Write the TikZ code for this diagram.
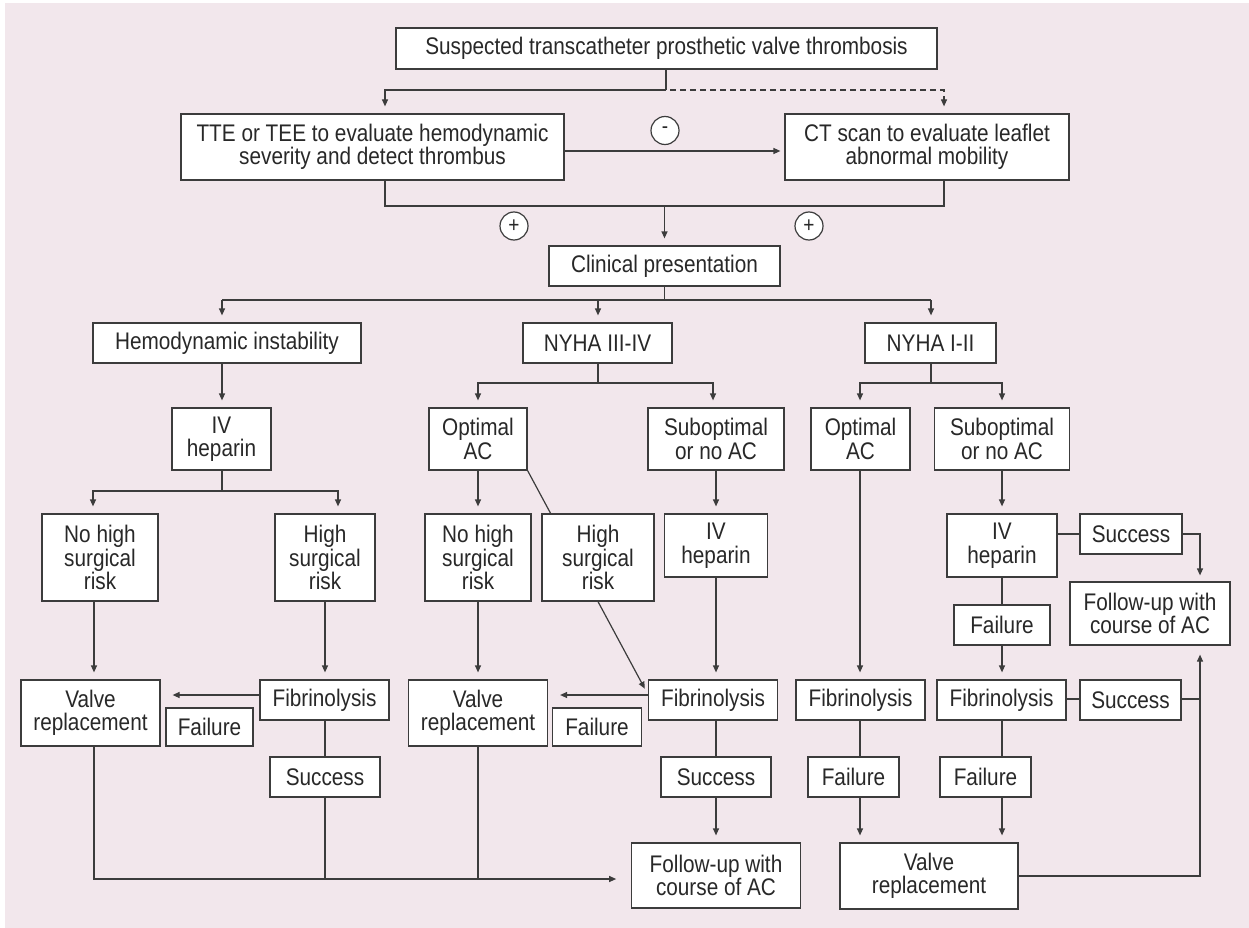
\documentclass[tikz,border=0pt]{standalone}
\usepackage{fontspec}
\setmainfont{Liberation Sans}[FakeStretch=0.865]
\usetikzlibrary{arrows.meta}
\definecolor{bgpink}{RGB}{242,231,236}
\definecolor{ink}{RGB}{40,40,40}
\definecolor{edge}{RGB}{60,60,60}
\pgfdeclarelayer{bg}
\pgfsetlayers{bg,main}

\begin{document}
\begin{tikzpicture}[x=1pt,y=-1pt,
  box/.style={draw=edge, line width=1.2pt, fill=white, inner sep=0pt, align=center,
    text=ink, font=\fontsize{24}{23.5}\selectfont},
  link/.style={draw=edge, line width=1.2pt},
  arr/.style={link, -{Triangle[length=7pt,width=6pt]}, shorten >=7pt},
  sign/.style={circle, draw=edge, line width=1.2pt, fill=white, minimum size=28pt,
    inner sep=0pt, text=ink, font=\fontsize{22}{22}\selectfont}]
\useasboundingbox (0,0) rectangle (1249,928);

% ---------- boxes ----------
\node[box, minimum width=541pt, minimum height=41pt] (top) at (666.5,48.5) {Suspected transcatheter prosthetic valve thrombosis};
\node[box, minimum width=383pt, minimum height=66pt] (tte) at (372.5,147) {TTE or TEE to evaluate hemodynamic\\severity and detect thrombus};
\node[box, minimum width=284pt, minimum height=66pt] (ct) at (927,147) {CT scan to evaluate leaflet\\abnormal mobility};
\node[sign] (minus) at (665,130.5) {-};
\node[sign] (plusL) at (514,226) {+};
\node[sign] (plusR) at (809,226) {+};
\node[box, minimum width=231pt, minimum height=40pt] (clin) at (664.5,266) {Clinical presentation};

\node[box, minimum width=268pt, minimum height=40pt] (hemo) at (227,343) {Hemodynamic instability};
\node[box, minimum width=149pt, minimum height=40pt] (nyhaA) at (597.5,343) {NYHA III-IV};
\node[box, minimum width=131pt, minimum height=40pt] (nyhaB) at (930.5,343) {NYHA I-II};

\node[box, minimum width=99pt, minimum height=62pt] (ivA) at (221.5,439) {IV\\heparin};
\node[box, minimum width=98pt, minimum height=62pt] (optA) at (478,439) {Optimal\\AC};
\node[box, minimum width=136pt, minimum height=62pt] (subA) at (716,439) {Suboptimal\\or no AC};
\node[box, minimum width=99pt, minimum height=62pt] (optB) at (860.5,439) {Optimal\\AC};
\node[box, minimum width=135pt, minimum height=62pt] (subB) at (1002,439) {Suboptimal\\or no AC};

\node[box, minimum width=116pt, minimum height=87pt] (lowA) at (100,557.5) {No high\\surgical\\risk};
\node[box, minimum width=100pt, minimum height=87pt] (highA) at (325,557.5) {High\\surgical\\risk};
\node[box, minimum width=106pt, minimum height=87pt] (lowB) at (478,557.5) {No high\\surgical\\risk};
\node[box, minimum width=112pt, minimum height=87pt] (highB) at (598,557.5) {High\\surgical\\risk};
\node[box, minimum width=102.5pt, minimum height=63pt] (ivB) at (716,545.5) {IV\\heparin};
\node[box, minimum width=110pt, minimum height=63pt] (ivC) at (1002,545.5) {IV\\heparin};
\node[box, minimum width=102pt, minimum height=40pt] (okC) at (1131,534) {Success};
\node[box, minimum width=160pt, minimum height=63pt] (fuC) at (1150,613.5) {Follow-up with\\course of AC};
\node[box, minimum width=96pt, minimum height=40pt] (failC) at (1002,625) {Failure};

\node[box, minimum width=139pt, minimum height=66pt] (vrA) at (90.5,713) {Valve\\replacement};
\node[box, minimum width=129pt, minimum height=40pt] (fibA) at (324.5,700) {Fibrinolysis};
\node[box, minimum width=87pt, minimum height=38pt] (failA) at (209.5,727) {Failure};
\node[box, minimum width=139pt, minimum height=66pt] (vrB) at (478,713) {Valve\\replacement};
\node[box, minimum width=88.5pt, minimum height=38pt] (failB) at (597,727) {Failure};
\node[box, minimum width=129.5pt, minimum height=40pt] (fibB) at (713,700) {Fibrinolysis};
\node[box, minimum width=129pt, minimum height=40pt] (fibC) at (860.5,700) {Fibrinolysis};
\node[box, minimum width=129pt, minimum height=40pt] (fibD) at (1001.5,700) {Fibrinolysis};
\node[box, minimum width=101pt, minimum height=40pt] (okD) at (1130.5,700) {Success};

\node[box, minimum width=110pt, minimum height=40pt] (okA) at (325,777) {Success};
\node[box, minimum width=110pt, minimum height=40pt] (okB) at (716,777) {Success};
\node[box, minimum width=91pt, minimum height=40pt] (failD) at (853.5,777) {Failure};
\node[box, minimum width=91pt, minimum height=40pt] (failE) at (985.5,777) {Failure};

\node[box, minimum width=168.5pt, minimum height=65pt] (fuB) at (716,875.5) {Follow-up with\\course of AC};
\node[box, minimum width=178pt, minimum height=66pt] (vrC) at (929,876) {Valve\\replacement};

% ---------- guide coordinates ----------
\coordinate (jTop) at (666,90);
\coordinate (xL) at (385,0);
\coordinate (xR) at (944,0);
\coordinate (yArr) at (0,151);
\coordinate (yMerge) at (0,206);
\coordinate (yC) at (0,300);
\coordinate (xHemo) at (222,0);
\coordinate (xNyA) at (598,0);
\coordinate (xNyB) at (931,0);
\coordinate (yIvA) at (0,491);
\coordinate (xLowA) at (93,0);
\coordinate (xHighA) at (338,0);
\coordinate (yNy) at (0,383);
\coordinate (xOptA) at (478,0);
\coordinate (xSubA) at (713,0);
\coordinate (xSubAl) at (716,0);
\coordinate (xOptB) at (860,0);
\coordinate (xSubB) at (1002,0);
\coordinate (xVrA) at (94,0);
\coordinate (xFibA) at (325,0);
\coordinate (yFail) at (0,695);
\coordinate (yBot) at (0,879);
\coordinate (yOk1) at (0,534);
\coordinate (yOk2) at (0,699);
\coordinate (yVr) at (0,876);
\coordinate (xRail) at (1200,0);

% ---------- background and connectors ----------
\begin{pgfonlayer}{bg}
\fill[white] (0,0) rectangle (1249,928);
\fill[bgpink] (5,3) rectangle (1249,928);

% first tests
\draw[link] (top.south -| jTop) -- (jTop);
\draw[arr] (jTop) -| (tte.north -| xL);
\draw[arr, dash pattern=on 6pt off 4pt, dash phase=6pt] (jTop) -| (ct.north -| xR);
\draw[arr, shorten >=4pt] (tte.east |- yArr) -- (ct.west |- yArr);
\draw[link] (tte.south -| xL) -- (xL |- yMerge) -- (xR |- yMerge) -- (ct.south -| xR);
\draw[arr] (clin.north |- yMerge) -- (clin.north);

% clinical presentation split
\draw[link] (clin.south) -- (clin.south |- yC);
\draw[link] (xHemo |- yC) -- (xNyB |- yC);
\draw[arr] (xHemo |- yC) -- (hemo.north -| xHemo);
\draw[arr] (xNyA |- yC) -- (nyhaA.north -| xNyA);
\draw[arr] (xNyB |- yC) -- (nyhaB.north -| xNyB);

% hemodynamic instability branch
\draw[arr] (hemo.south -| xHemo) -- (ivA.north -| xHemo);
\draw[link] (ivA.south -| xHemo) -- (xHemo |- yIvA);
\draw[arr] (xHemo |- yIvA) -| (lowA.north -| xLowA);
\draw[arr] (xHemo |- yIvA) -| (highA.north -| xHighA);
\draw[arr] (lowA.south -| xVrA) -- (vrA.north -| xVrA);
\draw[arr] (highA.south -| xFibA) -- (fibA.north -| xFibA);
\draw[arr, shorten >=12pt] (fibA.west |- yFail) -- (vrA.east |- yFail);
\draw[link] (fibA.south -| xFibA) -- (okA.north -| xFibA);
\draw[link] (okA.south -| xFibA) -- (xFibA |- yBot);
\draw[arr, shorten >=15pt] (vrA.south -| xVrA) |- (fuB.west |- yBot);

% NYHA III-IV branch
\draw[link] (nyhaA.south -| xNyA) -- (xNyA |- yNy);
\draw[arr] (xNyA |- yNy) -| (optA.north -| xOptA);
\draw[arr] (xNyA |- yNy) -| (subA.north -| xSubA);
\draw[arr] (optA.south -| xOptA) -- (lowB.north -| xOptA);
\draw[arr] (lowB.south -| xOptA) -- (vrB.north -| xOptA);
\draw[link] (vrB.south -| xOptA) -- (xOptA |- yBot);
\draw[arr, shorten >=6pt] (optA.south east) -- ([yshift=6pt]fibB.west);
\draw[arr] (subA.south -| xSubAl) -- (ivB.north -| xSubAl);
\draw[arr] (ivB.south -| xSubAl) -- (fibB.north -| xSubAl);
\draw[arr, shorten >=12pt] (fibB.west |- yFail) -- (vrB.east |- yFail);
\draw[link] (fibB.south -| xSubAl) -- (okB.north -| xSubAl);
\draw[arr] (okB.south -| xSubAl) -- (fuB.north -| xSubAl);

% NYHA I-II branch
\draw[link] (nyhaB.south -| xNyB) -- (xNyB |- yNy);
\draw[arr] (xNyB |- yNy) -| (optB.north -| xOptB);
\draw[arr] (xNyB |- yNy) -| (subB.north -| xSubB);
\draw[arr] (optB.south -| xOptB) -- (fibC.north -| xOptB);
\draw[link] (fibC.south -| xOptB) -- (failD.north -| xOptB);
\draw[arr] (failD.south -| xOptB) -- (vrC.north -| xOptB);
\draw[arr] (subB.south -| xSubB) -- (ivC.north -| xSubB);
\draw[link] (ivC.east |- yOk1) -- (okC.west |- yOk1);
\draw[arr, shorten >=6pt] (okC.east |- yOk1) -| (fuC.north -| xRail);
\draw[link] (ivC.south -| xSubB) -- (failC.north -| xSubB);
\draw[arr] (failC.south -| xSubB) -- (fibD.north -| xSubB);
\draw[link] (fibD.east |- yOk2) -- (okD.west |- yOk2);
\draw[link] (okD.east |- yOk2) -- (xRail |- yOk2);
\draw[link] (fibD.south -| xSubB) -- (failE.north -| xSubB);
\draw[arr] (failE.south -| xSubB) -- (vrC.north -| xSubB);
\draw[arr, shorten >=9pt] (vrC.east |- yVr) -| (fuC.south -| xRail);
\end{pgfonlayer}
\end{tikzpicture}
\end{document}
